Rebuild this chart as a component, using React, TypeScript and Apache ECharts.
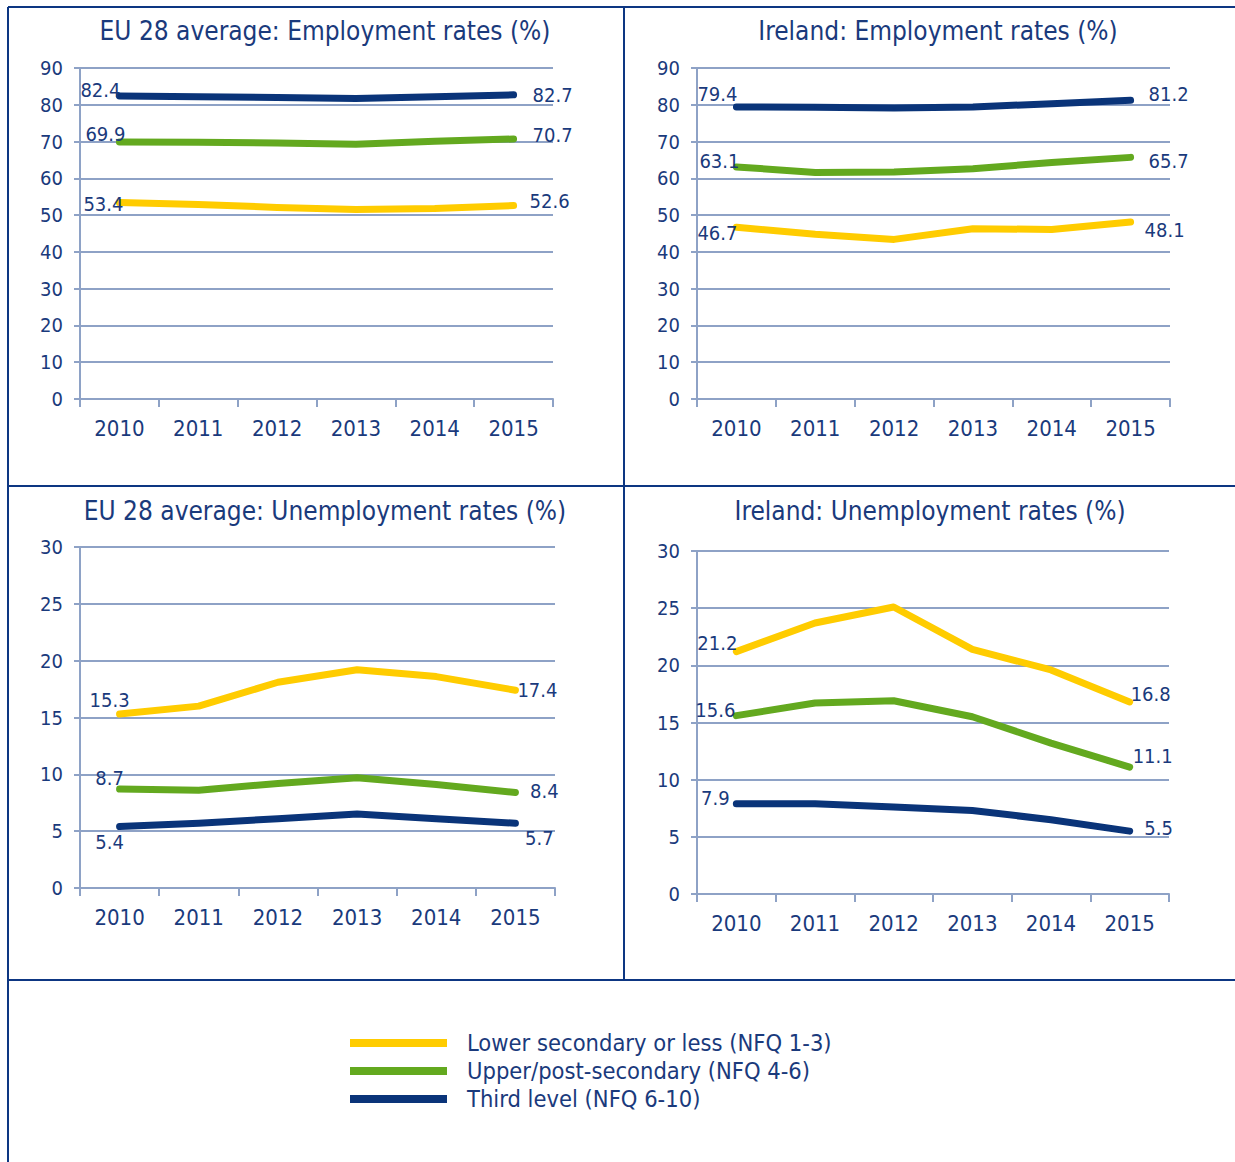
import React, { useEffect, useRef } from "react";
import * as echarts from "echarts";

const YEARS = ["2010", "2011", "2012", "2013", "2014", "2015"];

const SERIES_NAMES = [
  "Lower secondary or less (NFQ 1-3)",
  "Upper/post-secondary (NFQ 4-6)",
  "Third level (NFQ 6-10)",
];

const EU_EMP_LOWER = [53.4, 52.9, 52.1, 51.5, 51.8, 52.6];
const EU_EMP_UPPER = [69.9, 69.8, 69.6, 69.3, 70.1, 70.7];
const EU_EMP_THIRD = [82.4, 82.2, 82.0, 81.7, 82.2, 82.7];

const IE_EMP_LOWER = [46.7, 44.8, 43.4, 46.3, 46.1, 48.1];
const IE_EMP_UPPER = [63.1, 61.6, 61.7, 62.6, 64.3, 65.7];
const IE_EMP_THIRD = [79.4, 79.3, 79.1, 79.4, 80.3, 81.2];

const EU_UNEMP_LOWER = [15.3, 16.0, 18.1, 19.2, 18.6, 17.4];
const EU_UNEMP_UPPER = [8.7, 8.6, 9.2, 9.7, 9.1, 8.4];
const EU_UNEMP_THIRD = [5.4, 5.7, 6.1, 6.5, 6.1, 5.7];

const IE_UNEMP_LOWER = [21.2, 23.7, 25.1, 21.4, 19.6, 16.8];
const IE_UNEMP_UPPER = [15.6, 16.7, 16.9, 15.5, 13.2, 11.1];
const IE_UNEMP_THIRD = [7.9, 7.9, 7.6, 7.3, 6.5, 5.5];

const TITLES = [
  "EU 28 average: Employment rates (%)",
  "Ireland: Employment rates (%)",
  "EU 28 average: Unemployment rates (%)",
  "Ireland: Unemployment rates (%)",
];

const Y_MAX = [90, 90, 30, 30];
const Y_INTERVAL = [10, 10, 5, 5];

const COLORS = ["#FFCC00", "#63A91F", "#0A3479"];
const TEXT = "#1a3a7c";
const GRIDC = "#8ea2c6";
const BORDER = "#0d3682";
const FONT = "'DejaVu Sans Condensed', 'DejaVu Sans', sans-serif";

// panel layout
const GRIDS = [
  { left: 80, top: 68, width: 473, height: 331 },
  { left: 697, top: 68, width: 473, height: 331 },
  { left: 80, top: 547, width: 475, height: 341 },
  { left: 697, top: 551, width: 472, height: 343 },
];
const TITLE_POS = [
  [325, 31],
  [938, 31],
  [325, 511],
  [930, 511],
];

// label offsets [first, last] per panel, per series (lower, upper, third)
const LABEL_OFFSETS = [
  [[[-16, 1], [36, -5]], [[-14, -8], [39, -4]], [[-19, -6], [39, 0]]],
  [[[-19, 6], [34, 8]], [[-17, -6], [38, 4]], [[-19, -13], [38, -6]]],
  [[[-10, -14], [22, 0]], [[-10, -11], [29, -2]], [[-10, 15], [24, 15]]],
  [[[-19, -9], [21, -8]], [[-21, -6], [23, -11]], [[-21, -6], [29, -3]]],
];

const PANEL_DATA = [
  [EU_EMP_LOWER, EU_EMP_UPPER, EU_EMP_THIRD],
  [IE_EMP_LOWER, IE_EMP_UPPER, IE_EMP_THIRD],
  [EU_UNEMP_LOWER, EU_UNEMP_UPPER, EU_UNEMP_THIRD],
  [IE_UNEMP_LOWER, IE_UNEMP_UPPER, IE_UNEMP_THIRD],
];

export default function App() {
  const ref = useRef<HTMLDivElement>(null);

  useEffect(() => {
    if (!ref.current) return;
    const chart = echarts.init(ref.current, undefined, { renderer: "svg" });

    const grid = GRIDS.map((g) => ({ ...g, containLabel: false }));

    const xAxis = GRIDS.map((_, i) => ({
      type: "category",
      gridIndex: i,
      data: YEARS,
      boundaryGap: true,
      axisLine: { show: true, lineStyle: { color: GRIDC, width: 2 } },
      axisTick: { show: true, length: 8, lineStyle: { color: GRIDC, width: 2 } },
      axisLabel: {
        color: TEXT,
        fontSize: 22,
        fontFamily: FONT,
        margin: 18,
      },
    }));

    const yAxis = GRIDS.map((_, i) => ({
      type: "value",
      gridIndex: i,
      min: 0,
      max: Y_MAX[i],
      interval: Y_INTERVAL[i],
      axisLine: { show: true, lineStyle: { color: GRIDC, width: 2 } },
      axisTick: { show: true, length: 6, lineStyle: { color: GRIDC, width: 2 } },
      splitLine: { show: true, lineStyle: { color: GRIDC, width: 2 } },
      axisLabel: {
        color: TEXT,
        fontSize: 20,
        fontFamily: FONT,
        margin: 17,
      },
    }));

    const series: any[] = [];
    PANEL_DATA.forEach((panel, p) => {
      panel.forEach((values, s) => {
        const last = values.length - 1;
        series.push({
          type: "line",
          name: SERIES_NAMES[s],
          xAxisIndex: p,
          yAxisIndex: p,
          color: COLORS[s],
          symbol: "circle",
          symbolSize: 2,
          showSymbol: true,
          lineStyle: { width: 7, color: COLORS[s], cap: "round", join: "round" },
          itemStyle: { color: COLORS[s] },
          label: {
            show: false,
            position: "inside",
            color: TEXT,
            fontSize: 20,
            fontFamily: FONT,
          },
          data: values.map((v, i) => {
            if (i === 0 || i === last) {
              const off = LABEL_OFFSETS[p][s][i === 0 ? 0 : 1];
              return {
                value: v,
                label: {
                  show: true,
                  offset: off,
                  formatter: v.toFixed(1),
                },
              };
            }
            return { value: v };
          }),
          z: 3 + s,
        });
      });
    });

    const lines = [
      [8, 7, 1235, 7],
      [8, 7, 8, 1162],
      [624, 7, 624, 980],
      [8, 486, 1235, 486],
      [8, 980, 1235, 980],
    ];

    const graphic: any[] = lines.map(([x1, y1, x2, y2]) => ({
      type: "line",
      shape: { x1, y1, x2, y2 },
      style: { stroke: BORDER, lineWidth: 2 },
      silent: true,
    }));

    TITLES.forEach((t, i) => {
      graphic.push({
        type: "text",
        x: TITLE_POS[i][0],
        y: TITLE_POS[i][1],
        style: {
          text: t,
          fill: TEXT,
          font: `26px ${FONT}`,
          align: "center",
          verticalAlign: "middle",
        },
      });
    });

    chart.setOption({
      animation: false,
      backgroundColor: "#ffffff",
      grid,
      xAxis,
      yAxis,
      series,
      graphic,
      legend: {
        orient: "vertical",
        left: 345,
        top: 1026,
        itemWidth: 97,
        itemHeight: 8,
        itemGap: 4,
        data: SERIES_NAMES.map((n) => ({ name: n, icon: "rect" })),
        textStyle: {
          color: TEXT,
          fontSize: 23.5,
          fontFamily: FONT,
          padding: [0, 0, 0, 15],
          lineHeight: 24,
        },
        selectedMode: false,
      },
    });

    return () => chart.dispose();
  }, []);

  return (
    <div
      ref={ref}
      style={{ position: "absolute", left: 0, top: 0, width: 1235, height: 1162 }}
    />
  );
}
